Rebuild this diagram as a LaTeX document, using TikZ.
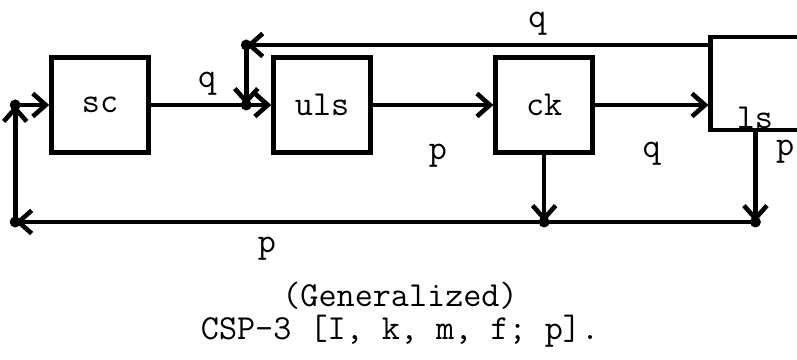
\documentclass[tikz,border=0pt]{standalone}
\usepackage{fontspec}
\usetikzlibrary{arrows.meta,positioning}
\tikzset{
  cspBox/.style={
    rectangle, draw=black, line width=2.6pt, inner sep=0pt,
    minimum width=1.94cm, minimum height=1.9cm,
    font=\ttfamily\fontsize{20}{22}\selectfont
  },
  cspLink/.style={draw=black, line width=2.6pt},
  cspArrow/.style={cspLink, -{Straight Barb[length=2.6mm,width=4.6mm]}},
  cspLabel/.style={inner sep=2pt, font=\ttfamily\fontsize{20}{22}\selectfont},
  cspDot/.style={fill=black},
  cspCaption/.style={align=center, inner sep=0pt, font=\ttfamily\fontsize{20}{19}\selectfont}
}

\begin{document}
\begin{tikzpicture}
  \useasboundingbox (0,0) rectangle (15.94,-7.2);
  \clip (0,0) rectangle (15.94,-7.2);

  \node[cspBox] (sc) at (2.0,-2.1) {sc};
  \node[cspBox, right=2.41cm of sc] (uls) {uls};
  \node[cspBox, right=2.41cm of uls] (ck) {ck};
  \node[cspBox, minimum width=2.2cm, minimum height=1.86cm, right=2.27cm of ck, yshift=0.43cm,
        label={[cspLabel, anchor=south west, xshift=0.49cm]south west:ls}] (ls) {};

  % junction points
  \coordinate (jin) at ([xshift=-0.5cm]uls.west);
  \coordinate (jtop) at ([yshift=1.2cm]jin);
  \coordinate (jleft) at ([xshift=-0.68cm]sc.west);
  \coordinate (jbl) at ([yshift=-2.34cm]jleft);
  \coordinate (jck) at (ck.south |- jbl);
  \coordinate (lsout) at ([xshift=0.94cm]ls.south west);
  \coordinate (jls) at (lsout |- jbl);

  \draw[cspLink] (sc.east) -- node[cspLabel, above=0.08cm, pos=0.59] {q} (jin);
  \draw[cspArrow] (jin) -- (uls.west);
  \draw[cspArrow] (uls.east) -- node[cspLabel, below=0.67cm, pos=0.54] {p} (ck.west);
  \draw[cspArrow] (ck.east) -- node[cspLabel, below=0.63cm] {q} (ck.east -| ls.west);
  \draw[cspArrow] (jtop -| ls.west) -- node[cspLabel, above=0.08cm, pos=0.37] {q} (jtop);
  \draw[cspArrow] (jtop) -- (jin);
  \draw[cspArrow] (ck.south) -- (jck);
  \draw[cspArrow] (lsout) -- node[cspLabel, right=0.3cm, pos=0.22] {p} (jls);
  \draw[cspArrow] (jls) -- node[cspLabel, below=0.19cm, pos=0.66] {p} (jbl);
  \draw[cspArrow] (jbl) -- (jleft);
  \draw[cspArrow] (jleft) -- (sc.west);

  \foreach \j in {jin,jtop,jleft,jbl,jck,jls}
    \fill[cspDot] (\j) circle (0.11cm);

  \node[cspCaption] (caption) at (8.0,-6.3) {(Generalized)\\CSP-3 [I, k, m, f; p].};
\end{tikzpicture}
\end{document}
